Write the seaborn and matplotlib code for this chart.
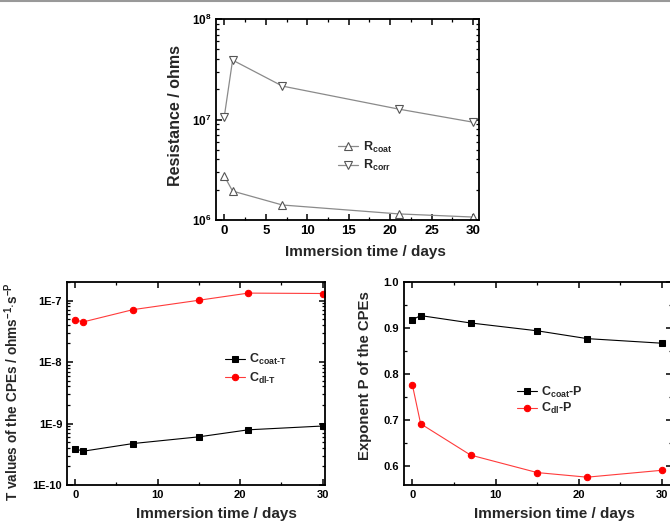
import matplotlib
matplotlib.use("Agg")
import matplotlib.pyplot as plt
import seaborn as sns
import numpy as np
import pandas as pd
from matplotlib.lines import Line2D
from matplotlib.ticker import MultipleLocator, LogLocator, FixedLocator, NullFormatter, FuncFormatter

# ---------------- data ----------------
days_r = [0, 1, 7, 21, 30]
r_coat = [2.74e6, 1.94e6, 1.41e6, 1.15e6, 1.07e6]
r_corr = [1.07e7, 3.9e7, 2.15e7, 1.27e7, 9.4e6]

days_c = [0, 1, 7, 15, 21, 30]
c_coat_t = [3.86e-10, 3.55e-10, 4.72e-10, 6.07e-10, 7.9e-10, 9.1e-10]
c_dl_t = [4.8e-8, 4.5e-8, 7.1e-8, 1.01e-7, 1.32e-7, 1.30e-7]
c_coat_p = [0.918, 0.927, 0.911, 0.894, 0.877, 0.867]
c_dl_p = [0.777, 0.692, 0.624, 0.586, 0.576, 0.591]

sns.set_theme(style="ticks")
plt.rcParams['font.family'] = ['Liberation Sans', 'DejaVu Sans']
plt.rcParams['font.weight'] = 'bold'
plt.rcParams['mathtext.fontset'] = 'custom'
plt.rcParams['mathtext.rm'] = 'Liberation Sans:bold'
plt.rcParams['mathtext.bf'] = 'Liberation Sans:bold'
plt.rcParams['mathtext.it'] = 'Liberation Sans:bold'
plt.rcParams['mathtext.default'] = 'bf'

W, H = 670, 523
fig = plt.figure(figsize=(W / 100, H / 100), dpi=100)

def add_ax(x0, y0, x1, y1):
    return fig.add_axes([x0 / W, 1 - y1 / H, (x1 - x0) / W, (y1 - y0) / H])

ax1 = add_ax(216, 19, 479, 220)
ax2 = add_ax(67, 282, 325, 485)
ax3 = add_ax(404, 282, 672, 485)

for ax in (ax1, ax2, ax3):
    for s in ax.spines.values():
        s.set_linewidth(1.3)
        s.set_color('black')
    ax.tick_params(which='both', direction='in', top=True, right=True, labelsize=8, colors='black')
    ax.tick_params(which='major', length=4, width=1.1)
    ax.tick_params(which='minor', length=2, width=0.9)
ax1.tick_params(axis='x', labelsize=9.5)
ax1.tick_params(axis='y', labelsize=8.5)

XLAB = 11

# ---------------- top panel ----------------
gray = '#8a8a8a'
df_r = pd.DataFrame({'day': days_r, 'coat': r_coat, 'corr': r_corr})
sns.lineplot(data=df_r, x='day', y='coat', ax=ax1, color=gray, lw=0.9, marker='^', ms=6,
             mfc='white', mec='#555555', mew=0.8, label=r'R$_{\mathbf{coat}}$')
sns.lineplot(data=df_r, x='day', y='corr', ax=ax1, color=gray, lw=0.9, marker='v', ms=6,
             mfc='white', mec='#555555', mew=0.8, label=r'R$_{\mathbf{corr}}$')
ax1.set_yscale('log')
ax1.set_ylim(1e6, 1e8)
ax1.set_xlim(-1.0, 30.7)
ax1.xaxis.set_major_locator(MultipleLocator(5))
ax1.xaxis.set_minor_locator(MultipleLocator(2.5))
ax1.yaxis.set_minor_locator(LogLocator(base=10, subs=np.arange(2, 10)))
ax1.yaxis.set_minor_formatter(NullFormatter())
ax1.set_xlabel('Immersion time / days', fontsize=XLAB, fontweight='bold', labelpad=6, x=0.567)
ax1.set_ylabel('Resistance / ohms', fontsize=11.5, fontweight='bold', labelpad=6, y=0.52)
ax1.legend(loc='upper left', bbox_to_anchor=(0.44, 0.43), frameon=False, fontsize=9,
           handlelength=1.6, handletextpad=0.4, labelspacing=0.25, borderpad=0)

# ---------------- bottom left ----------------
df_c = pd.DataFrame({'day': days_c, 'ct': c_coat_t, 'dt': c_dl_t, 'cp': c_coat_p, 'dp': c_dl_p})
sns.lineplot(data=df_c, x='day', y='ct', ax=ax2, color='black', lw=0.8, marker='s', ms=4.2,
             mec='black', label=r'C$_{\mathbf{coat\text{-}T}}$')
sns.lineplot(data=df_c, x='day', y='dt', ax=ax2, color='#ff3b3b', lw=0.8, marker='o', ms=4.6,
             mfc='#ff0000', mec='#ff0000', label=r'C$_{\mathbf{dl\text{-}T}}$')
ax2.set_yscale('log')
ax2.set_ylim(1e-10, 2e-7)
ax2.set_xlim(-1.0, 30.3)
ax2.xaxis.set_major_locator(MultipleLocator(10))
ax2.xaxis.set_minor_locator(MultipleLocator(5))
ax2.yaxis.set_major_locator(FixedLocator([1e-10, 1e-9, 1e-8, 1e-7]))
ax2.yaxis.set_major_formatter(FuncFormatter(lambda v, p: '1E%d' % int(round(np.log10(v)))))
ax2.yaxis.set_minor_locator(LogLocator(base=10, subs=np.arange(2, 10)))
ax2.yaxis.set_minor_formatter(NullFormatter())
ax2.set_xlabel('Immersion time / days', fontsize=XLAB, fontweight='bold', labelpad=5, x=0.578)
ax2.set_ylabel(r'T values of the CPEs / ohms$^{\mathbf{-1}}$$\cdot$s$^{\mathbf{-P}}$',
               fontsize=9.8, fontweight='bold', labelpad=8, y=0.46)
ax2.legend(loc='upper left', bbox_to_anchor=(0.59, 0.685), frameon=False, fontsize=9,
           handlelength=1.6, handletextpad=0.3, labelspacing=0.25, borderpad=0)

# ---------------- bottom right ----------------
sns.lineplot(data=df_c, x='day', y='cp', ax=ax3, color='black', lw=0.8, marker='s', ms=4.2,
             mec='black', label=r'C$_{\mathbf{coat}}$-P')
sns.lineplot(data=df_c, x='day', y='dp', ax=ax3, color='#ff3b3b', lw=0.8, marker='o', ms=4.6,
             mfc='#ff0000', mec='#ff0000', label=r'C$_{\mathbf{dl}}$-P')
ax3.set_ylim(0.559, 1.0)
ax3.set_xlim(-1.0, 31.2)
ax3.xaxis.set_major_locator(MultipleLocator(10))
ax3.xaxis.set_minor_locator(MultipleLocator(5))
ax3.yaxis.set_major_locator(MultipleLocator(0.1))
ax3.yaxis.set_minor_locator(MultipleLocator(0.05))
ax3.yaxis.set_major_formatter(FuncFormatter(lambda v, p: '%.1f' % v))
ax3.set_xlabel('Immersion time / days', fontsize=XLAB, fontweight='bold', labelpad=5, x=0.56)
ax3.set_ylabel('Exponent P of the CPEs', fontsize=10.7, fontweight='bold', labelpad=8, y=0.54)
ax3.legend(loc='upper left', bbox_to_anchor=(0.40, 0.525), frameon=False, fontsize=9,
           handlelength=1.6, handletextpad=0.3, labelspacing=0.1, borderpad=0)

# thin gray line at the very top
fig.add_artist(Line2D([0, 1], [1 - 1 / H, 1 - 1 / H], transform=fig.transFigure,
                      color='#999999', lw=1.5))

fig.savefig('out.png', dpi=100)
